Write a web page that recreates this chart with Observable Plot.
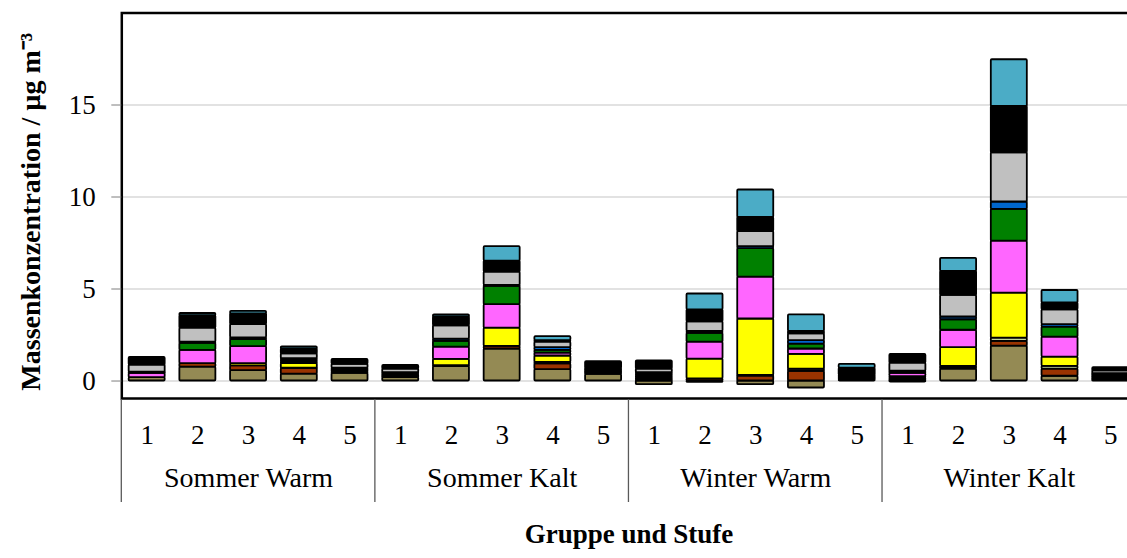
<!DOCTYPE html>
<html>
<head>
<meta charset="utf-8">
<script src="https://cdn.jsdelivr.net/npm/d3@7"></script>
<script src="https://cdn.jsdelivr.net/npm/@observablehq/plot@0.6"></script>
<style>
  html, body { margin: 0; padding: 0; overflow: hidden; background: #fff; }
</style>
</head>
<body>
<div id="chart"></div>
<script>
// ---- Data ----
const gruppen = ["Sommer Warm", "Sommer Kalt", "Winter Warm", "Winter Kalt"];
const stufen = ["1", "2", "3", "4", "5"];
const komponenten = ["K1", "K2", "K3", "K4", "K5", "K6", "K7", "K8", "K9", "K10"];
const farben = ["#948a54", "#993300", "#c4d79b", "#ffff00", "#ff66ff", "#008000", "#0066cc", "#c0c0c0", "#000000", "#4bacc6"];
const yTicks = [0, 5, 10, 15];

// values per component, order: SW1..SW5, SK1..SK5, WW1..WW5, WK1..WK5
const oliv    = [0.18, 0.75, 0.56, 0.38, 0.42,  0.18, 0.78, 1.74, 0.62, 0.36,  -0.20, -0.07, -0.20, -0.38, 0.00,  -0.06, 0.65, 1.90, 0.26, 0.04];
const braun   = [0.00, 0.19, 0.26, 0.29, 0.07,  0.07, 0.05, 0.14, 0.31, 0.06,   0.08,  0.12,  0.27,  0.52, 0.06,   0.08, 0.08, 0.25, 0.39, 0.06];
const hell    = [0.00, 0.00, 0.00, 0.03, 0.00,  0.00, 0.00, 0.00, 0.08, 0.00,   0.00,  0.00,  0.03,  0.12, 0.00,   0.08, 0.07, 0.18, 0.15, 0.06];
const gelb    = [0.00, 0.00, 0.12, 0.24, 0.07,  0.07, 0.35, 0.99, 0.35, 0.06,   0.08,  1.07,  3.07,  0.81, 0.06,   0.08, 1.01, 2.45, 0.50, 0.06];
const magenta = [0.24, 0.73, 0.93, 0.09, 0.07,  0.07, 0.66, 1.28, 0.16, 0.06,   0.10,  0.92,  2.28,  0.29, 0.06,   0.17, 0.95, 2.82, 1.08, 0.06];
const gruen   = [0.03, 0.38, 0.38, 0.09, 0.07,  0.06, 0.32, 1.00, 0.15, 0.06,   0.10,  0.48,  1.55,  0.26, 0.06,   0.07, 0.57, 1.73, 0.55, 0.06];
const blau    = [0.03, 0.06, 0.10, 0.09, 0.00,  0.00, 0.12, 0.05, 0.15, 0.06,   0.09,  0.10,  0.10,  0.20, 0.06,   0.05, 0.15, 0.40, 0.14, 0.06];
const grau    = [0.39, 0.76, 0.72, 0.26, 0.21,  0.20, 0.72, 0.72, 0.29, 0.00,   0.20,  0.53,  0.82,  0.36, 0.00,   0.44, 1.17, 2.67, 0.80, 0.15];
const schwarz = [0.41, 0.68, 0.58, 0.27, 0.26,  0.20, 0.48, 0.60, 0.09, 0.39,   0.45,  0.65,  0.77,  0.14, 0.40,   0.47, 1.31, 2.52, 0.37, 0.17];
const tuerkis = [0.00, 0.12, 0.13, 0.12, 0.00,  0.00, 0.12, 0.78, 0.21, 0.00,   0.00,  0.86,  1.49,  0.89, 0.20,   0.00, 0.71, 2.54, 0.68, 0.00];

const werte = [oliv, braun, hell, gelb, magenta, gruen, blau, grau, schwarz, tuerkis];

// ---- Build table ----
const keys = [];
gruppen.forEach(g => stufen.forEach(s => keys.push(g + "|" + s)));
const rows = [];
keys.forEach((k, i) => {
  komponenten.forEach((c, j) => {
    rows.push({key: k, komponente: c, wert: werte[j][i]});
  });
});

const yDomain = [-0.95, 20];
const W = 1140, H = 558;
const font = "'Liberation Serif', 'Times New Roman', Times, serif";

const plot = Plot.plot({
  width: W,
  height: H,
  marginTop: 12.5,
  marginBottom: 160,
  marginLeft: 121.3,
  marginRight: 4.4,
  style: {fontFamily: font, fontSize: "27px", color: "black", background: "white", maxWidth: "none"},
  x: {domain: keys, paddingInner: 0.29, paddingOuter: 0.145, round: false},
  y: {domain: yDomain},
  color: {domain: komponenten, range: farben},
  marks: [
    Plot.ruleY(yTicks, {stroke: "#d9d9d9", strokeWidth: 1.5}),
    Plot.barY(rows, {x: "key", y: "wert", fill: "komponente", stroke: "black", strokeWidth: 1.8, rx: 1}),
    Plot.frame({stroke: "black", strokeWidth: 2.5}),
    Plot.axisY({ticks: yTicks, tickSize: 10, tickPadding: 16, stroke: "#7f7f7f", fill: "black", label: null, fontSize: 27}),
    Plot.axisX({tickSize: 0, tickPadding: 26, tickFormat: d => d.split("|")[1], label: null, fill: "black", fontSize: 27}),
    Plot.text(gruppen, {x: g => g + "|3", text: g => g, frameAnchor: "bottom", dy: 88, fontSize: 28, fill: "black"}),
    Plot.text(["Gruppe und Stufe"], {frameAnchor: "bottom", dy: 144, fontWeight: "bold", fontSize: 27, fill: "black"}),
    Plot.text(["Massenkonzentration / µg m⁻³"], {frameAnchor: "left", rotate: -90, textAnchor: "middle", dx: -91, dy: 6, fontWeight: "bold", fontSize: 28, fill: "black"})
  ]
});

document.getElementById("chart").appendChild(plot);

// group dividers below the frame, positioned from Plot's own scales
const xs = plot.scale("x"), ys = plot.scale("y");
const step = xs.apply(keys[1]) - xs.apply(keys[0]);
const bw = xs.bandwidth != null ? xs.bandwidth : step * (1 - 0.29);
const gap = (step - bw) / 2;
const yb = ys.apply(yDomain[0]);
const bounds = gruppen.map(g => xs.apply(g + "|1") - gap).concat([xs.apply(keys[keys.length - 1]) + bw + gap]);
d3.select(plot).append("g")
  .selectAll("line").data(bounds).join("line")
  .attr("x1", d => d).attr("x2", d => d)
  .attr("y1", yb + 1).attr("y2", yb + 104)
  .attr("stroke", "#595959").attr("stroke-width", 1.3);
</script>
</body>
</html>
